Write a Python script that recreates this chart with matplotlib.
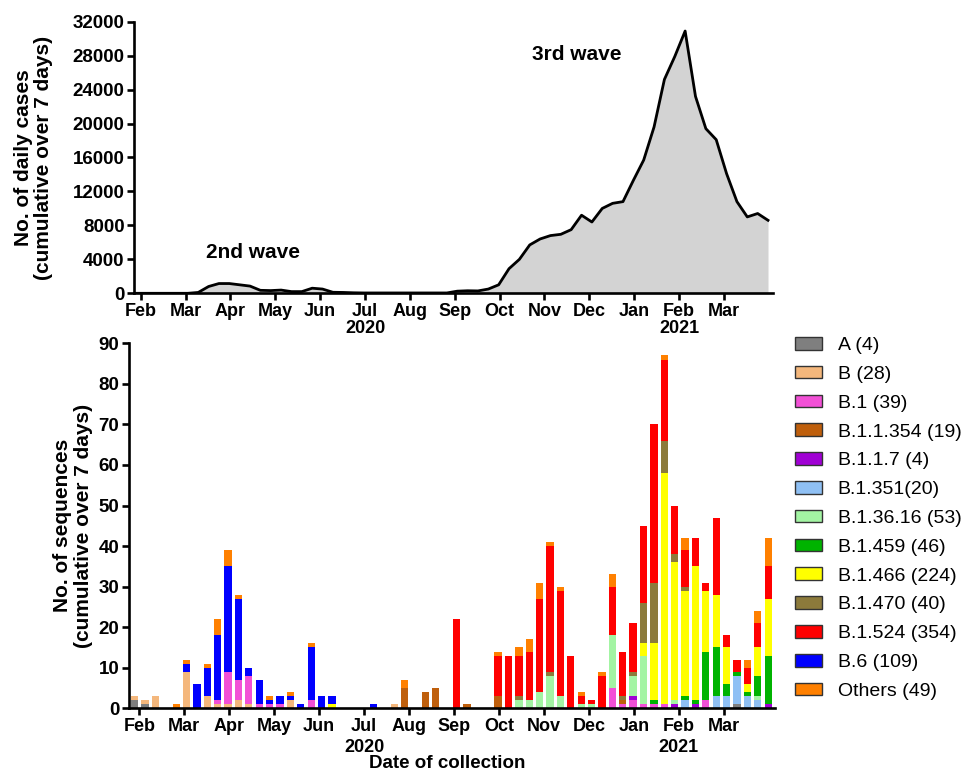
import numpy as np
import matplotlib
matplotlib.use("Agg")
import matplotlib.pyplot as plt
from matplotlib.patches import Patch
import matplotlib.transforms as mtransforms

plt.rcParams['font.family'] = ['Liberation Sans', 'DejaVu Sans']

# weekly bins, Feb 2020 -> Mar 2021
weeks = np.arange(62)
months = ['Feb', 'Mar', 'Apr', 'May', 'Jun', 'Jul', 'Aug', 'Sep', 'Oct', 'Nov',
          'Dec', 'Jan', 'Feb', 'Mar']

# daily cases, cumulative over 7 days
cases = [0, 0, 0, 0, 0, 0, 100, 800, 1150, 1150,
         1000, 850, 350, 320, 380, 200, 200, 600, 500, 120,
         100, 60, 40, 40, 40, 40, 40, 40, 40, 40,
         40, 250, 300, 280, 500, 1000, 2900, 4000, 5700, 6400,
         6800, 6950, 7500, 9200, 8400, 10000, 10600, 10800, 13300, 15700,
         19600, 25200, 27900, 30900, 23200, 19400, 18100, 14100, 10800, 9000,
         9400, 8600]

# sequences per lineage, cumulative over 7 days
lin_A = [2, 1, 0, 0, 0, 0, 0, 0, 0, 0,
         0, 0, 0, 0, 0, 0, 0, 0, 0, 0,
         0, 0, 0, 0, 0, 0, 0, 0, 0, 0,
         0, 0, 0, 0, 0, 0, 0, 0, 0, 0,
         0, 0, 0, 0, 0, 0, 0, 0, 0, 0,
         0, 0, 0, 0, 0, 0, 0, 0, 1, 0,
         0, 0]
lin_B = [1, 1, 3, 0, 0, 9, 0, 3, 1, 1,
         2, 1, 0, 0, 0, 2, 0, 0, 0, 0,
         0, 0, 0, 0, 0, 1, 0, 0, 0, 0,
         0, 0, 0, 0, 0, 0, 0, 0, 0, 0,
         0, 0, 0, 0, 0, 0, 0, 0, 0, 0,
         0, 0, 0, 0, 0, 0, 0, 0, 0, 0,
         0, 0]
lin_B1 = [0, 0, 0, 0, 0, 0, 0, 0, 1, 8,
          5, 7, 1, 1, 1, 0, 0, 2, 0, 0,
          0, 0, 0, 0, 0, 0, 0, 0, 0, 0,
          0, 0, 0, 0, 0, 0, 0, 0, 0, 0,
          0, 0, 0, 0, 0, 0, 5, 1, 2, 1,
          1, 1, 0, 0, 0, 2, 0, 0, 0, 0,
          0, 0]
lin_B11354 = [0, 0, 0, 0, 0, 0, 0, 0, 0, 0,
              0, 0, 0, 0, 0, 0, 0, 0, 0, 0,
              0, 0, 0, 0, 0, 0, 5, 0, 4, 5,
              0, 0, 1, 0, 0, 3, 0, 0, 0, 0,
              0, 0, 0, 0, 0, 0, 0, 1, 0, 0,
              0, 0, 0, 0, 0, 0, 0, 0, 0, 0,
              0, 0]
lin_B117 = [0, 0, 0, 0, 0, 0, 0, 0, 0, 0,
            0, 0, 0, 0, 0, 0, 0, 0, 0, 0,
            0, 0, 0, 0, 0, 0, 0, 0, 0, 0,
            0, 0, 0, 0, 0, 0, 0, 0, 0, 0,
            0, 0, 0, 0, 0, 0, 0, 0, 1, 0,
            0, 0, 1, 0, 1, 0, 0, 0, 0, 0,
            0, 1]
lin_B1351 = [0, 0, 0, 0, 0, 0, 0, 0, 0, 0,
             0, 0, 0, 0, 0, 0, 0, 0, 0, 0,
             0, 0, 0, 0, 0, 0, 0, 0, 0, 0,
             0, 0, 0, 0, 0, 0, 0, 0, 0, 0,
             0, 0, 0, 0, 0, 0, 0, 0, 0, 0,
             0, 0, 0, 2, 0, 0, 3, 3, 7, 3,
             2, 0]
lin_B13616 = [0, 0, 0, 0, 0, 0, 0, 0, 0, 0,
              0, 0, 0, 0, 0, 0, 0, 0, 0, 0,
              0, 0, 0, 0, 0, 0, 0, 0, 0, 0,
              0, 0, 0, 0, 0, 0, 0, 2, 2, 4,
              8, 3, 0, 1, 1, 0, 13, 0, 5, 12,
              0, 0, 1, 0, 0, 0, 0, 0, 0, 0,
              1, 0]
lin_B1459 = [0, 0, 0, 0, 0, 0, 0, 0, 0, 0,
             0, 0, 0, 0, 0, 0, 0, 0, 0, 0,
             0, 0, 0, 0, 0, 0, 0, 0, 0, 0,
             0, 0, 0, 0, 0, 0, 0, 0, 0, 0,
             0, 0, 0, 0, 0, 0, 0, 0, 0, 0,
             1, 0, 0, 1, 1, 12, 12, 3, 1, 1,
             5, 12]
lin_B1466 = [0, 0, 0, 0, 0, 0, 0, 0, 0, 0,
             0, 0, 0, 0, 0, 0, 0, 0, 0, 1,
             0, 0, 0, 0, 0, 0, 0, 0, 0, 0,
             0, 0, 0, 0, 0, 0, 0, 0, 0, 0,
             0, 0, 0, 0, 0, 0, 0, 0, 0, 3,
             14, 57, 34, 26, 33, 15, 13, 9, 0, 2,
             7, 14]
lin_B1470 = [0, 0, 0, 0, 0, 0, 0, 0, 0, 0,
             0, 0, 0, 0, 0, 0, 0, 0, 0, 0,
             0, 0, 0, 0, 0, 0, 0, 0, 0, 0,
             0, 0, 0, 0, 0, 0, 0, 1, 0, 0,
             1, 0, 0, 0, 0, 0, 0, 1, 1, 10,
             15, 8, 2, 1, 0, 0, 0, 0, 0, 0,
             0, 0]
lin_B1524 = [0, 0, 0, 0, 0, 0, 0, 0, 0, 0,
             0, 0, 0, 0, 0, 0, 0, 0, 0, 0,
             0, 0, 0, 0, 0, 0, 0, 0, 0, 0,
             0, 22, 0, 0, 0, 10, 13, 10, 12, 23,
             31, 26, 13, 2, 1, 8, 12, 11, 12, 19,
             39, 20, 12, 9, 7, 2, 19, 3, 3, 4,
             6, 8]
lin_B6 = [0, 0, 0, 0, 0, 2, 6, 7, 16, 26,
          20, 2, 6, 1, 2, 1, 1, 13, 3, 2,
          0, 0, 0, 1, 0, 0, 0, 0, 0, 0,
          0, 0, 0, 0, 0, 0, 0, 0, 0, 0,
          0, 0, 0, 0, 0, 0, 0, 0, 0, 0,
          0, 0, 0, 0, 0, 0, 0, 0, 0, 0,
          0, 0]
lin_other = [0, 0, 0, 0, 1, 1, 0, 1, 4, 4,
             1, 0, 0, 1, 0, 1, 0, 1, 0, 0,
             0, 0, 0, 0, 0, 0, 2, 0, 0, 0,
             0, 0, 0, 0, 0, 1, 0, 2, 3, 4,
             1, 1, 0, 1, 0, 1, 3, 0, 0, 0,
             0, 1, 0, 3, 0, 0, 0, 0, 0, 2,
             3, 7]

labels = ['A (4)', 'B (28)', 'B.1 (39)', 'B.1.1.354 (19)', 'B.1.1.7 (4)',
          'B.1.351(20)', 'B.1.36.16 (53)', 'B.1.459 (46)', 'B.1.466 (224)',
          'B.1.470 (40)', 'B.1.524 (354)', 'B.6 (109)', 'Others (49)']
series = [lin_A, lin_B, lin_B1, lin_B11354, lin_B117, lin_B1351, lin_B13616,
          lin_B1459, lin_B1466, lin_B1470, lin_B1524, lin_B6, lin_other]
colors = ['#7f7f7f', '#f4b77c', '#f250d6', '#bf5f0c', '#a000d4', '#8fc0f4',
          '#a3f4a3', '#00b300', '#ffff00', '#8c7a3b', '#ff0000', '#0000ff',
          '#ff8000']

W, H = 971, 771
fig = plt.figure(figsize=(W / 100, H / 100), dpi=100)

def px_axes(l, t, r, b):
    return fig.add_axes([l / W, 1 - b / H, (r - l) / W, (b - t) / H])

month_pos = 0.45 + 4.33 * np.arange(len(months))
bold = dict(fontweight='bold')

def style(ax):
    for s in ['top', 'right']:
        ax.spines[s].set_visible(False)
    for s in ['left', 'bottom']:
        ax.spines[s].set_linewidth(1.9)
    ax.tick_params(width=1.9, length=5, pad=2)
    ax.tick_params(axis='x', labelsize=13)
    ax.tick_params(axis='y', labelsize=13.5)
    ax.set_xticks(month_pos)
    ax.set_xticklabels(months, **bold)
    for t in ax.get_yticklabels():
        t.set_fontweight('bold')

# ---- top: daily cases
ax1 = px_axes(134.3, 21.7, 773.3, 293.3)
ax1.fill_between(weeks, cases, color='#d3d3d3', lw=0)
ax1.plot(weeks, cases, color='black', lw=2)
ax1.set_xlim(-0.17, 61.51)
ax1.set_ylim(0, 32000)
ax1.set_yticks(np.arange(0, 32001, 4000))
style(ax1)
ax1.set_ylabel('No. of daily cases\n(cumulative over 7 days)', fontsize=15,
               fontweight='bold', linespacing=1.1)
ax1.yaxis.set_label_coords(-0.127, 0.5)
fig.text(253 / W, 1 - 253 / H, '2nd wave', fontsize=15, ha='center',
         va='center', **bold)
fig.text(577 / W, 1 - 55 / H, '3rd wave', fontsize=15, ha='center',
         va='center', **bold)
tr1 = mtransforms.blended_transform_factory(ax1.transData, fig.transFigure)
ax1.text(month_pos[5], 1 - 328 / H, '2020', transform=tr1, ha='center',
         va='center', fontsize=13, **bold)
ax1.text(month_pos[12], 1 - 328 / H, '2021', transform=tr1, ha='center',
         va='center', fontsize=13, **bold)

# ---- bottom: sequences by lineage
ax2 = px_axes(129, 343.3, 775, 708.3)
bottom = np.zeros(len(weeks))
for vals, lab, col in zip(series, labels, colors):
    vals = np.array(vals)
    ax2.bar(weeks, vals, bottom=bottom, width=0.7, color=col, lw=0)
    bottom += vals
ax2.set_xlim(-0.54, 61.66)
ax2.set_ylim(0, 90)
ax2.set_yticks(np.arange(0, 91, 10))
style(ax2)
ax2.set_ylabel('No. of sequences\n(cumulative over 7 days)', fontsize=15,
               fontweight='bold', linespacing=1.1)
ax2.yaxis.set_label_coords(-0.056, 0.5)
tr2 = mtransforms.blended_transform_factory(ax2.transData, fig.transFigure)
ax2.text(month_pos[5], 1 - 747 / H, '2020', transform=tr2, ha='center',
         va='center', fontsize=13, **bold)
ax2.text(month_pos[12], 1 - 747 / H, '2021', transform=tr2, ha='center',
         va='center', fontsize=13, **bold)
fig.text(447 / W, 1 - 763 / H, 'Date of collection', ha='center', va='center',
         fontsize=13.5, **bold)

handles = [Patch(facecolor=c, edgecolor='#333333', lw=1) for c in colors]
fig.legend(handles, labels, loc='upper left', bbox_to_anchor=(795 / W, 1 - 337 / H),
           frameon=False, fontsize=14, handlelength=1.4, handleheight=0.62,
           handletextpad=0.8, labelspacing=0.6, borderaxespad=0, borderpad=0)

fig.savefig('out.png', dpi=100)
